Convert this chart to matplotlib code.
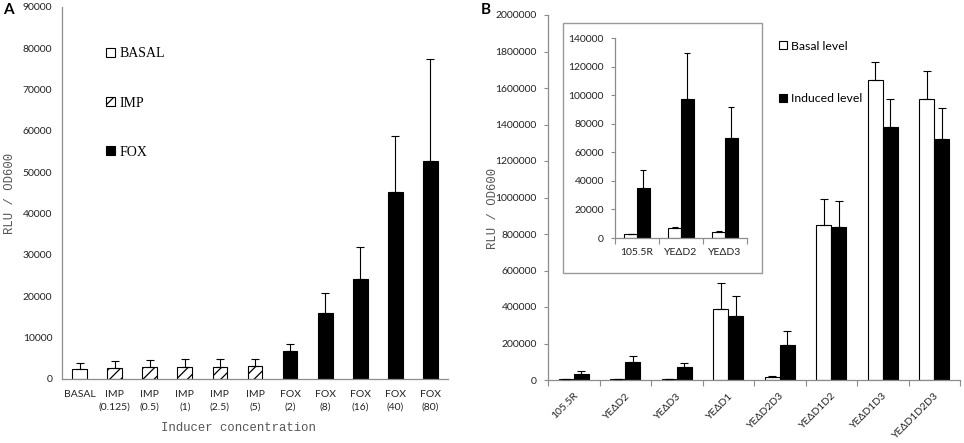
import numpy as np
import matplotlib
matplotlib.use("Agg")
import matplotlib.pyplot as plt
from matplotlib.patches import Patch, Rectangle
from matplotlib.ticker import FuncFormatter

plt.rcParams['font.family'] = ['Lato', 'DejaVu Sans']
plt.rcParams['hatch.linewidth'] = 0.9

# Panel A data
a_labels = ['BASAL', 'IMP\n(0.125)', 'IMP\n(0.5)', 'IMP\n(1)', 'IMP\n(2.5)', 'IMP\n(5)',
            'FOX\n(2)', 'FOX\n(8)', 'FOX\n(16)', 'FOX\n(40)', 'FOX\n(80)']
a_groups = ['BASAL', 'IMP', 'IMP', 'IMP', 'IMP', 'IMP', 'FOX', 'FOX', 'FOX', 'FOX', 'FOX']
a_means = [2400, 2650, 2800, 3000, 3000, 3200, 6850, 15900, 24150, 45300, 52700]
a_err = [1500, 1750, 1800, 1750, 1750, 1700, 1550, 5000, 7850, 13600, 24600]

# Panel B data
b_labels = ['105.5R', 'YEΔD2', 'YEΔD3', 'YEΔD1', 'YEΔD2D3', 'YEΔD1D2', 'YEΔD1D3', 'YEΔD1D2D3']
basal = [2800, 6800, 4400, 391000, 14600, 851000, 1641900, 1537900]
basal_err = [300, 700, 500, 142000, 5400, 140800, 98700, 155300]
induced = [34800, 97100, 70000, 352500, 191800, 836500, 1386300, 1318700]
induced_err = [12800, 32200, 21700, 107500, 74900, 144300, 153400, 169900]
n_inset = 3

W, H = 964, 443
AX_GRAY = '#8c8c8c'
LBL_GRAY = '#555555'
TICK_FS = 7.5
mono = dict(family='Liberation Mono', size=8.8, color=LBL_GRAY)
plain = FuncFormatter(lambda v, p: '%d' % v)

styles = {
    'BASAL': dict(facecolor='white', hatch=None),
    'IMP': dict(facecolor='white', hatch='///'),
    'FOX': dict(facecolor='black', hatch=None),
}


def style_spines(ax):
    for sp in ['top', 'right']:
        ax.spines[sp].set_visible(False)
    for sp in ['left', 'bottom']:
        ax.spines[sp].set_color(AX_GRAY)
        ax.spines[sp].set_linewidth(0.9)


fig = plt.figure(figsize=(W / 100, H / 100), dpi=100)

# ---------------- Panel A ----------------
axA = fig.add_axes([62 / W, 1 - 379 / H, 386 / W, 372 / H])
xa = np.arange(len(a_labels))
for i, g in enumerate(a_groups):
    s = styles[g]
    axA.bar(xa[i], a_means[i], width=0.42, color=s['facecolor'], edgecolor='black',
            linewidth=0.8, hatch=s['hatch'], zorder=2)
axA.errorbar(xa, a_means, yerr=[np.zeros(len(a_err)), a_err], fmt='none',
             ecolor='black', elinewidth=0.8, capsize=2.6, capthick=0.8, zorder=3)
axA.set_xlim(-0.5, len(a_labels) - 0.5)
axA.set_ylim(0, 90000)
axA.set_yticks(np.arange(0, 90001, 10000))
axA.yaxis.set_major_formatter(plain)
axA.set_xticks(xa)
axA.set_xticklabels(a_labels, linespacing=1.45)
axA.tick_params(axis='both', length=0, labelsize=TICK_FS, colors='#222222')
axA.tick_params(axis='x', pad=8)
axA.tick_params(axis='y', pad=7)
style_spines(axA)
axA.text(-0.135, 0.5, 'RLU / OD600', transform=axA.transAxes, rotation=90,
         ha='center', va='center', **mono)
axA.text(0.456, -0.132, 'Inducer concentration', transform=axA.transAxes,
         ha='center', va='center', **mono)
handlesA = [Patch(facecolor=styles[g]['facecolor'], edgecolor='black', linewidth=0.8,
                  hatch=styles[g]['hatch']) for g in ['BASAL', 'IMP', 'FOX']]
axA.legend(handlesA, ['BASAL', 'IMP', 'FOX'], loc='upper left', bbox_to_anchor=(0.082, 0.925),
           frameon=False, handlelength=0.65, handleheight=0.65, handletextpad=0.3,
           labelspacing=2.6, prop=dict(family='Liberation Serif', size=10))
fig.text(3 / W, 1 - 10 / H, 'A', fontsize=11, fontweight='bold', va='center', ha='left')

# ---------------- Panel B ----------------
axB = fig.add_axes([548 / W, 1 - 380 / H, 412 / W, 365 / H])
xb = np.arange(len(b_labels))
bw = 0.29
axB.bar(xb - bw / 2, basal, width=bw, color='white', edgecolor='black', linewidth=0.8, zorder=2)
axB.bar(xb + bw / 2, induced, width=bw, color='black', edgecolor='black', linewidth=0.8, zorder=2)
axB.errorbar(xb - bw / 2, basal, yerr=[np.zeros(len(basal)), basal_err], fmt='none',
             ecolor='black', elinewidth=0.8, capsize=2.6, capthick=0.8, zorder=3)
axB.errorbar(xb + bw / 2, induced, yerr=[np.zeros(len(induced)), induced_err], fmt='none',
             ecolor='black', elinewidth=0.8, capsize=2.6, capthick=0.8, zorder=3)
axB.set_xlim(-0.5, len(b_labels) - 0.5)
axB.set_ylim(0, 2000000)
axB.set_yticks(np.arange(0, 2000001, 200000))
axB.yaxis.set_major_formatter(plain)
axB.set_xticks(xb)
axB.set_xticklabels(b_labels, rotation=45, ha='right', rotation_mode='anchor')
axB.set_xticks(np.arange(-0.5, len(b_labels), 1), minor=True)
axB.tick_params(axis='x', which='major', length=0, pad=8)
axB.tick_params(axis='x', which='minor', length=4, color=AX_GRAY, width=0.8)
axB.tick_params(axis='y', length=3, color=AX_GRAY, width=0.8, pad=5)
axB.tick_params(axis='both', labelsize=TICK_FS, labelcolor='#222222')
style_spines(axB)
axB.text(-0.1335, 0.471, 'RLU / OD600', transform=axB.transAxes, rotation=90,
         ha='center', va='center', **mono)
handlesB = [Patch(facecolor='white', edgecolor='black', linewidth=0.8),
            Patch(facecolor='black', edgecolor='black', linewidth=0.8)]
axB.legend(handlesB, ['Basal level', 'Induced level'], loc='upper left',
           bbox_to_anchor=(0.535, 0.96), frameon=False, handlelength=0.65, handleheight=0.65,
           handletextpad=0.3, labelspacing=3.4, prop=dict(size=8.8))
fig.text(481 / W, 1 - 10 / H, 'B', fontsize=11, fontweight='bold', va='center', ha='left')

# inset frame and axes
fig.add_artist(Rectangle((563 / W, 1 - 273 / H), 199 / W, 250 / H, transform=fig.transFigure,
                         fill=False, edgecolor='#999999', linewidth=1.0))
axI = fig.add_axes([615 / W, 1 - 238 / H, 132 / W, 200 / H])
xi = np.arange(n_inset)
axI.bar(xi - bw / 2, basal[:n_inset], width=bw, color='white', edgecolor='black', linewidth=0.8, zorder=2)
axI.bar(xi + bw / 2, induced[:n_inset], width=bw, color='black', edgecolor='black', linewidth=0.8, zorder=2)
axI.errorbar(xi - bw / 2, basal[:n_inset], yerr=[np.zeros(n_inset), basal_err[:n_inset]], fmt='none',
             ecolor='black', elinewidth=0.8, capsize=2.4, capthick=0.8, zorder=3)
axI.errorbar(xi + bw / 2, induced[:n_inset], yerr=[np.zeros(n_inset), induced_err[:n_inset]], fmt='none',
             ecolor='black', elinewidth=0.8, capsize=2.4, capthick=0.8, zorder=3)
axI.set_xlim(-0.5, n_inset - 0.5)
axI.set_ylim(0, 140000)
axI.set_yticks(np.arange(0, 140001, 20000))
axI.yaxis.set_major_formatter(plain)
axI.set_xticks(xi)
axI.set_xticklabels(b_labels[:n_inset])
axI.set_xticks(np.arange(-0.5, n_inset, 1), minor=True)
axI.tick_params(axis='x', which='major', length=0, pad=7)
axI.tick_params(axis='x', which='minor', length=4, color=AX_GRAY, width=0.8)
axI.tick_params(axis='y', length=3, color=AX_GRAY, width=0.8, pad=5)
axI.tick_params(axis='both', labelsize=TICK_FS, labelcolor='#222222')
style_spines(axI)

fig.savefig('out.png', dpi=100)
